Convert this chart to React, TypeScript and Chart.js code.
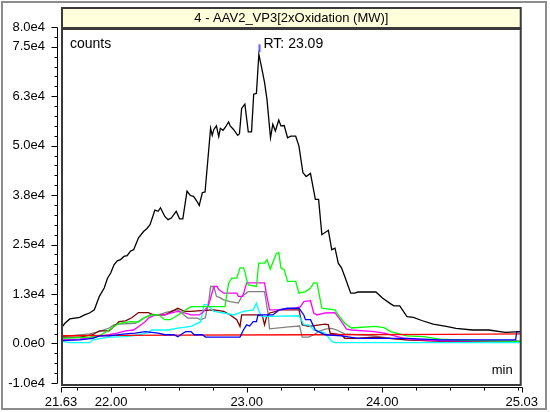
import React, { useEffect, useRef } from 'react';
import { Chart, registerables } from 'chart.js';

Chart.register(...registerables);

// ---------- axis config ----------
const X_MIN = 21.63;
const X_MAX = 25.03;
const Y_MIN = -10000;
const Y_MAX = 80000;
const xLabelValues = [21.63, 22.0, 23.0, 24.0, 25.03];
const xLabelTexts = ['21.63', '22.00', '23.00', '24.00', '25.03'];
const xMinorValues = [21.75, 22.25, 22.5, 22.75, 23.25, 23.5, 23.75, 24.25, 24.5, 24.75, 25.0];
const yLabelValues = [-10000, 0, 12500, 25000, 37500, 50000, 62500, 75000, 80000];
const yLabelTexts = ['-1.0e4', '0.0e0', '1.3e4', '2.5e4', '3.8e4', '5.0e4', '6.3e4', '7.5e4', '8.0e4'];
const yMinorStep = 2500;

const titleText = '4 - AAV2_VP3[2xOxidation (MW)]';
const yUnitText = 'counts';
const xUnitText = 'min';
const peakTime = 23.09;
const peakLabel = 'RT: 23.09';

// ---------- series: [time (min), counts] ----------
const blackTrace: [number, number][] = [
  [21.637, 4100], [21.659, 5100], [21.695, 6200], [21.768, 6600], [21.804, 7200], [21.84, 7700],
  [21.876, 8500], [21.913, 11900], [21.949, 14000], [21.973, 16500], [21.997, 17800], [22.021, 19900],
  [22.045, 20900], [22.07, 21200], [22.094, 22000], [22.118, 22200], [22.142, 23300], [22.166, 23700],
  [22.202, 26700], [22.239, 28300], [22.263, 29000], [22.287, 30000], [22.323, 33700], [22.347, 33400],
  [22.364, 34300], [22.396, 32100], [22.42, 31300], [22.444, 31700], [22.48, 33400], [22.505, 31500],
  [22.529, 31500], [22.56, 38500], [22.584, 37400], [22.608, 37200], [22.632, 36000], [22.65, 34900],
  [22.673, 38100], [22.693, 38300], [22.734, 54400], [22.746, 52600], [22.758, 54100], [22.777, 55000],
  [22.794, 52300], [22.806, 54400], [22.826, 53900], [22.842, 54600], [22.867, 56000], [22.879, 55000],
  [22.903, 54100], [22.934, 52600], [22.947, 53000], [22.963, 59400], [22.987, 60500], [23.012, 53500],
  [23.036, 53500], [23.052, 63000], [23.072, 63200], [23.09, 73100], [23.108, 70200], [23.132, 66000],
  [23.15, 61700], [23.176, 52000], [23.193, 55400], [23.212, 53700], [23.237, 56500], [23.253, 55000],
  [23.277, 55100], [23.302, 52000], [23.326, 52400], [23.362, 52400], [23.386, 49900], [23.415, 43200],
  [23.439, 42200], [23.471, 43000], [23.507, 36400], [23.531, 36400], [23.555, 27500], [23.603, 28600],
  [23.628, 23700], [23.652, 24100], [23.676, 20300], [23.7, 19100], [23.724, 16900], [23.768, 12700],
  [23.797, 12700], [23.821, 13000], [23.954, 13000], [24.002, 11500], [24.063, 10000], [24.087, 9500],
  [24.13, 9500], [24.183, 6800], [24.231, 6600], [24.292, 5800], [24.376, 4900], [24.473, 4300],
  [24.545, 3800], [24.666, 3400], [24.787, 3400], [24.908, 2800], [25.024, 3000],
];

const greenTrace: [number, number][] = [
  [21.635, 1300], [21.84, 1600], [21.913, 1900], [21.985, 3400], [22.021, 4300], [22.058, 5100],
  [22.142, 5500], [22.202, 5400], [22.239, 6400], [22.299, 7200], [22.347, 7300], [22.396, 6000],
  [22.434, 6000], [22.478, 6800], [22.552, 8500], [22.589, 9300], [22.686, 9300], [22.84, 9300],
  [22.867, 15300], [22.891, 16500], [22.927, 16500], [22.951, 19100], [22.976, 19100], [22.989, 17900],
  [23.0, 16100], [23.012, 14800], [23.072, 14400], [23.089, 20300], [23.132, 20300], [23.15, 21200],
  [23.174, 18800], [23.196, 20700], [23.218, 22700], [23.237, 23000], [23.253, 19100], [23.277, 18600],
  [23.302, 15700], [23.362, 15700], [23.386, 12700], [23.434, 13100], [23.471, 14000], [23.495, 15300],
  [23.519, 15300], [23.555, 8900], [23.652, 8500], [23.676, 7200], [23.724, 5100], [23.773, 3900],
  [23.942, 4300], [24.014, 4000], [24.063, 3000], [24.183, 1900], [24.304, 1700], [24.425, 1100],
  [24.666, 700], [25.024, 500],
];

const magentaTrace: [number, number][] = [
  [21.635, 900], [21.768, 1100], [21.985, 2200], [22.045, 2600], [22.106, 3200], [22.166, 3400],
  [22.202, 4300], [22.251, 5500], [22.275, 6400], [22.323, 7200], [22.396, 7200], [22.444, 7700],
  [22.492, 8100], [22.541, 7700], [22.589, 7200], [22.65, 7200], [22.681, 8000], [22.717, 9500],
  [22.758, 14400], [22.782, 14400], [22.794, 13600], [22.831, 12700], [22.927, 12700], [22.939, 11900],
  [22.971, 11900], [23.0, 15300], [23.132, 15300], [23.145, 12700], [23.169, 8500], [23.218, 8500],
  [23.277, 8700], [23.362, 8900], [23.398, 9300], [23.422, 10600], [23.471, 10800], [23.495, 7700],
  [23.519, 7200], [23.579, 7700], [23.652, 7800], [23.7, 5500], [23.737, 3600], [23.773, 3400],
  [23.942, 3000], [24.014, 2600], [24.183, 1100], [24.425, 700], [25.024, 500],
];

const grayTrace: [number, number][] = [
  [21.635, 1700], [21.695, 1900], [21.84, 2400], [21.913, 3000], [21.985, 3900], [22.021, 4700],
  [22.058, 4900], [22.178, 5100], [22.251, 6600], [22.299, 7400], [22.347, 7200], [22.42, 8000],
  [22.492, 8500], [22.521, 7700], [22.565, 6400], [22.637, 6400], [22.661, 6000], [22.695, 6500],
  [22.722, 11000], [22.734, 14400], [22.758, 14400], [22.777, 11900], [22.806, 11500], [22.831, 11000],
  [22.879, 10600], [22.939, 10200], [22.963, 11900], [23.012, 13100], [23.132, 13100], [23.157, 7700],
  [23.169, 3700], [23.311, 4200], [23.391, 4400], [23.41, 1600], [23.458, 1600], [23.495, 2200],
  [23.531, 3000], [23.579, 3600], [23.628, 3800], [23.664, 3400], [23.724, 2400], [23.942, 1900],
  [24.063, 1300], [24.183, 900], [24.425, 600], [25.024, 500],
];

const maroonTrace: [number, number][] = [
  [21.635, 1600], [21.768, 1600], [21.864, 2200], [21.913, 3200], [21.985, 3200], [22.034, 4700],
  [22.058, 5500], [22.106, 5700], [22.152, 6500], [22.202, 7800], [22.275, 7800], [22.311, 7200],
  [22.396, 7200], [22.442, 8000], [22.492, 8900], [22.541, 8100], [22.589, 8100], [22.661, 8300],
  [22.758, 8500], [22.831, 8100], [22.879, 7200], [22.927, 6000], [22.951, 4300], [22.963, 7200],
  [23.072, 7200], [23.116, 7000], [23.132, 4700], [23.145, 6500], [23.169, 7700], [23.218, 8100],
  [23.242, 8500], [23.386, 8500], [23.41, 4700], [23.458, 4300], [23.579, 4900], [23.603, 4700],
  [23.616, 2600], [23.7, 2200], [23.724, 1300], [23.797, 1300], [23.942, 1600], [24.183, 900],
  [24.425, 600], [25.024, 500],
];

const blueTrace: [number, number][] = [
  [21.635, 700], [21.768, 900], [21.864, 1300], [21.913, 1900], [21.985, 1900], [22.106, 2400],
  [22.178, 2600], [22.251, 3000], [22.347, 2600], [22.396, 2200], [22.464, 2200], [22.492, 1700],
  [22.536, 2700], [22.552, 3000], [22.589, 3000], [22.613, 2200], [22.673, 2200], [22.697, 1600],
  [22.951, 1600], [22.976, 3400], [23.0, 4700], [23.022, 4400], [23.048, 5500], [23.072, 5500],
  [23.084, 7200], [23.193, 7200], [23.242, 8500], [23.302, 8900], [23.386, 8900], [23.422, 7200],
  [23.434, 6000], [23.471, 6000], [23.507, 3400], [23.579, 2200], [23.7, 1900], [23.821, 1300],
  [24.183, 1300], [24.425, 900], [24.985, 900], [24.993, 3000], [25.024, 3000],
];

const cyanTrace: [number, number][] = [
  [21.635, 500], [21.695, 200], [21.84, 200], [21.864, 900], [21.985, 1600], [22.106, 1700],
  [22.202, 2200], [22.275, 2700], [22.299, 3400], [22.42, 3400], [22.492, 3900], [22.589, 4300],
  [22.661, 5500], [22.686, 9800], [22.71, 9800], [22.758, 8100], [22.831, 7700], [22.903, 7200],
  [22.976, 8100], [23.048, 8500], [23.072, 10200], [23.087, 8500], [23.108, 6800], [23.386, 7000],
  [23.422, 4700], [23.458, 4700], [23.495, 3400], [23.579, 2600], [23.628, 500], [23.652, 200],
  [25.024, 200],
];

const redTrace: [number, number][] = [
  [21.635, 2000], [22.5, 2100], [23.5, 2200], [24.5, 2300], [25.024, 2400],
];

const seriesList: { trace: [number, number][]; color: string }[] = [
  { trace: blackTrace, color: '#000000' },
  { trace: blueTrace, color: '#0000ff' },
  { trace: redTrace, color: '#ff0000' },
  { trace: greenTrace, color: '#00ff00' },
  { trace: magentaTrace, color: '#ff00ff' },
  { trace: cyanTrace, color: '#00ffff' },
  { trace: maroonTrace, color: '#800000' },
  { trace: grayTrace, color: '#808080' },
];

const FONT = '"Liberation Sans", Arial, Helvetica, sans-serif';

const decorations = {
  id: 'decorations',
  beforeDraw(chart: any) {
    const ctx = chart.ctx as CanvasRenderingContext2D;
    ctx.save();
    ctx.fillStyle = '#ffffff';
    ctx.fillRect(0, 0, chart.width, chart.height);
    ctx.strokeStyle = '#8c8c8c';
    ctx.lineWidth = 2;
    ctx.strokeRect(2, 2, 544, 407);
    ctx.restore();
  },
  afterDraw(chart: any) {
    const ctx = chart.ctx as CanvasRenderingContext2D;
    const ca = chart.chartArea;
    const xs = chart.scales.x;
    const ys = chart.scales.y;
    ctx.save();
    const boxL = ca.left + 1;
    const boxR = ca.right - 1;
    const boxTop = ca.top + 2;
    const boxBottom = ca.bottom + 2;
    // title box
    ctx.fillStyle = '#ffffdc';
    ctx.fillRect(boxL, ca.top - 19, boxR - boxL, 20);
    ctx.strokeStyle = '#3a3a3a';
    ctx.lineWidth = 2;
    ctx.strokeRect(boxL, ca.top - 19, boxR - boxL, 20);
    ctx.fillStyle = '#000';
    ctx.font = '13px ' + FONT;
    ctx.textAlign = 'center';
    ctx.textBaseline = 'middle';
    ctx.fillText(titleText, (boxL + boxR) / 2, ca.top - 9);
    // plot box
    ctx.strokeRect(boxL, boxTop, boxR - boxL, boxBottom - boxTop);

    // y axis line + ticks
    ctx.strokeStyle = '#000';
    ctx.lineWidth = 1;
    const yAxisX = ca.left - 3.5;
    ctx.beginPath();
    ctx.moveTo(yAxisX, Math.round(ys.getPixelForValue(Y_MAX)) + 0.5);
    ctx.lineTo(yAxisX, Math.round(ys.getPixelForValue(Y_MIN)) + 0.5);
    ys.ticks.forEach((t: any) => {
      const py = Math.round(ys.getPixelForValue(t.value)) + 0.5;
      const len = yLabelValues.includes(t.value) ? 6 : 3;
      ctx.moveTo(yAxisX, py);
      ctx.lineTo(yAxisX - len, py);
    });
    ctx.stroke();

    // x axis line + ticks
    const xAxisY = ca.bottom + 4.5;
    ctx.beginPath();
    ctx.moveTo(Math.round(xs.getPixelForValue(X_MIN)) + 0.5, xAxisY);
    ctx.lineTo(Math.round(xs.getPixelForValue(X_MAX)) + 0.5, xAxisY);
    xs.ticks.forEach((t: any) => {
      const px = Math.round(xs.getPixelForValue(t.value)) + 0.5;
      const len = xLabelValues.includes(t.value) ? 5 : 3;
      ctx.moveTo(px, xAxisY);
      ctx.lineTo(px, xAxisY + len);
    });
    ctx.stroke();

    // in-plot texts
    ctx.fillStyle = '#000';
    ctx.font = '14px ' + FONT;
    ctx.textAlign = 'left';
    ctx.fillText(yUnitText, ca.left + 9, ca.top + 17);
    ctx.font = '13px ' + FONT;
    ctx.textAlign = 'right';
    ctx.fillText(xUnitText, ca.right - 9, ca.bottom - 13);

    // peak marker
    const peak = blackTrace.reduce((a, b) => (b[1] > a[1] ? b : a));
    const pxPeak = Math.round(xs.getPixelForValue(peakTime)) + 0.5;
    const pyPeak = ys.getPixelForValue(peak[1]);
    ctx.strokeStyle = '#5a5aff';
    ctx.lineWidth = 2;
    ctx.beginPath();
    ctx.moveTo(pxPeak, pyPeak - 10);
    ctx.lineTo(pxPeak, pyPeak - 2);
    ctx.stroke();
    ctx.fillStyle = '#000';
    ctx.font = '14px ' + FONT;
    ctx.textAlign = 'left';
    ctx.fillText(peakLabel, pxPeak + 4, pyPeak - 10);
    ctx.restore();
  },
};

export default function App() {
  const canvasRef = useRef<HTMLCanvasElement | null>(null);

  useEffect(() => {
    if (!canvasRef.current) return;
    const yTickValues: number[] = [];
    for (let v = Y_MIN; v <= Y_MAX; v += yMinorStep) yTickValues.push(v);
    const xTickValues = [...xLabelValues, ...xMinorValues].sort((a, b) => a - b);

    const chart = new Chart(canvasRef.current, {
      type: 'line',
      data: {
        datasets: seriesList.map((s) => ({
          data: s.trace.map(([t, c]) => ({ x: t, y: c })),
          borderColor: s.color,
          backgroundColor: s.color,
          borderWidth: 1.3,
          pointRadius: 0,
          tension: 0,
          fill: false,
        })),
      },
      options: {
        responsive: false,
        animation: false,
        events: [],
        layout: { padding: { top: 27, right: 20, bottom: 0, left: 0 } },
        plugins: { legend: { display: false }, tooltip: { enabled: false }, title: { display: false } },
        scales: {
          x: {
            type: 'linear',
            min: X_MIN,
            max: X_MAX,
            grid: { display: false, drawTicks: false },
            border: { display: false },
            afterBuildTicks: (scale: any) => {
              scale.ticks = xTickValues.map((v) => ({ value: v }));
            },
            afterFit: (scale: any) => {
              scale.height = 29;
            },
            ticks: {
              autoSkip: false,
              maxRotation: 0,
              minRotation: 0,
              padding: 12,
              color: '#000',
              font: { family: FONT, size: 13 },
              callback: (value: any) => {
                const i = xLabelValues.indexOf(value);
                return i >= 0 ? xLabelTexts[i] : '';
              },
            },
          },
          y: {
            type: 'linear',
            min: Y_MIN,
            max: Y_MAX,
            grid: { display: false, drawTicks: false },
            border: { display: false },
            afterBuildTicks: (scale: any) => {
              scale.ticks = yTickValues.map((v) => ({ value: v }));
            },
            afterFit: (scale: any) => {
              scale.width = 61;
            },
            ticks: {
              autoSkip: false,
              padding: 16,
              color: '#000',
              font: { family: FONT, size: 13 },
              callback: (value: any) => {
                const i = yLabelValues.indexOf(value);
                return i >= 0 ? yLabelTexts[i] : '';
              },
            },
          },
        },
      },
      plugins: [decorations],
    } as any);
    return () => chart.destroy();
  }, []);

  return (
    <div style={{ position: 'fixed', left: 0, top: 0, width: 550, height: 412, background: '#fff' }}>
      <canvas ref={canvasRef} width={550} height={412} style={{ display: 'block' }} />
    </div>
  );
}
